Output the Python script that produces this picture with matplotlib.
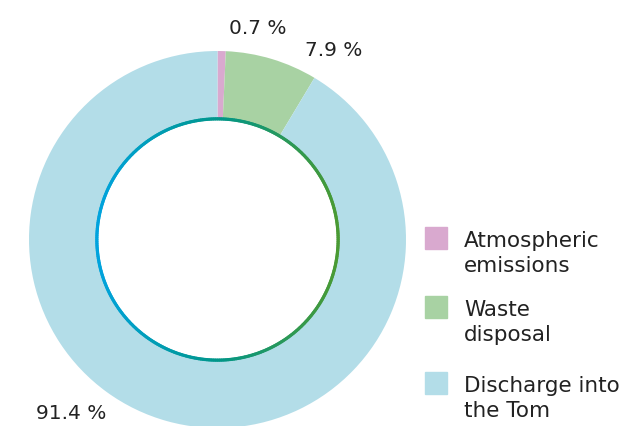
import numpy as np
import matplotlib
matplotlib.use('Agg')
from matplotlib import pyplot as plt
from matplotlib.collections import LineCollection
from matplotlib.colors import LinearSegmentedColormap
from matplotlib.patches import Rectangle

labels = ['Atmospheric\nemissions', 'Waste\ndisposal', 'Discharge into\nthe Tom']
shares = [0.7, 7.9, 91.4]
pct_text = ['0.7 %', '7.9 %', '91.4 %']
colors = ['#d9a9cf', '#a8d2a3', '#b3dde8']

plt.rcParams['font.family'] = ['DejaVu Sans']

W, H = 643, 427
fig = plt.figure(figsize=(W/100, H/100), dpi=100)
ax = fig.add_axes([29/W, -2/H, 377/W, 377/H])
ax.set_aspect('equal')
ax.axis('off')

r_in = 0.64
wedges, _ = ax.pie(shares, colors=colors, startangle=90, counterclock=False,
                   radius=1, wedgeprops=dict(width=1 - r_in, linewidth=0),
                   frame=False)
ax.set_xlim(-1, 1)
ax.set_ylim(-1, 1)
for w in wedges:
    w.set_clip_on(False)

# gradient ring on inner edge (blue left -> teal -> green right)
t = np.linspace(0, 2*np.pi, 361)
xs, ys = r_in*np.cos(t), r_in*np.sin(t)
segs = np.stack([np.column_stack([xs[:-1], ys[:-1]]), np.column_stack([xs[1:], ys[1:]])], axis=1)
cmap = LinearSegmentedColormap.from_list('ring', ['#00a3de', '#00968a', '#4a9a33'])
mid_x = (xs[:-1] + xs[1:]) / 2
lc = LineCollection(segs, colors=cmap((mid_x / r_in + 1) / 2), linewidth=2.3, capstyle='round')
lc.set_clip_on(False)
ax.add_collection(lc)

# percentage labels (pixel positions)
pct_pos = [(258, 28), (334, 50), (71, 414)]
for txt, (px, py) in zip(pct_text, pct_pos):
    fig.text(px/W, 1 - py/H, txt, fontsize=14.5, color='#222222', ha='center', va='center')

# legend
leg_y = [228, 297, 373]
for lab, col, y in zip(labels, colors, leg_y):
    fig.patches.append(Rectangle((425/W, 1 - (y + 22)/H), 22/W, 22/H,
                                 transform=fig.transFigure, color=col, figure=fig))
    fig.text(464/W, 1 - (y + 3)/H, lab, fontsize=15.5, color='#222222',
             ha='left', va='top', linespacing=1.32)

fig.savefig('out.png', dpi=100)
